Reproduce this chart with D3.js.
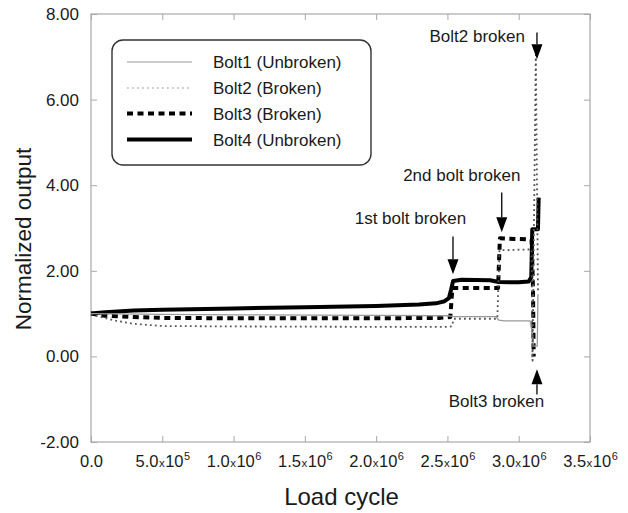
<!DOCTYPE html>
<html><head><meta charset="utf-8">
<script src="https://cdn.jsdelivr.net/npm/d3@7"></script>
<style>body{margin:0;background:#fff}svg{display:block;font-family:"Liberation Sans",Arial,Helvetica,sans-serif}</style>
</head><body><svg id="c" width="628" height="513"></svg>
<script>
// ---------- data ----------
const xTicks = [0, 5e5, 1e6, 1.5e6, 2e6, 2.5e6, 3e6, 3.5e6];
const xTickMantissa = ["0.0", "5.0", "1.0", "1.5", "2.0", "2.5", "3.0", "3.5"];
const xTickExponent = ["", "5", "6", "6", "6", "6", "6", "6"];
const yTicks = [-2, 0, 2, 4, 6, 8];
const yTickLabels = ["-2.00", "0.00", "2.00", "4.00", "6.00", "8.00"];

const seriesNames = ["Bolt1 (Unbroken)", "Bolt2 (Broken)", "Bolt3 (Broken)", "Bolt4 (Unbroken)"];

const bolt1Cycles = [0, 0.5e6, 1.0e6, 2.0e6, 2.5e6, 2.55e6, 2.84e6, 2.86e6, 2.9e6, 3.08e6, 3.095e6, 3.105e6, 3.13e6, 3.135e6];
const bolt1Output = [1.00, 0.98, 0.97, 0.96, 0.95, 0.93, 0.93, 0.85, 0.83, 0.83, 0.55, 0.24, 0.24, 1.45];

const bolt2Cycles = [0, 0.15e6, 0.3e6, 0.5e6, 1.0e6, 2.0e6, 2.5e6, 2.53e6, 2.545e6, 2.85e6, 2.865e6, 3.09e6, 3.097e6, 3.12e6, 3.135e6];
const bolt2Output = [0.98, 0.85, 0.76, 0.71, 0.70, 0.69, 0.69, 0.70, 0.88, 0.88, 2.48, 2.50, -0.10, 7.05, 1.50];

const bolt3Cycles = [0, 0.1e6, 0.3e6, 0.5e6, 1.0e6, 2.0e6, 2.45e6, 2.52e6, 2.535e6, 2.855e6, 2.868e6, 3.09e6, 3.095e6, 3.10e6, 3.105e6];
const bolt3Output = [1.00, 0.95, 0.92, 0.90, 0.89, 0.89, 0.90, 0.92, 1.60, 1.60, 2.76, 2.73, 2.20, 1.60, 0.00];

const bolt4Cycles = [0, 0.1e6, 0.3e6, 0.5e6, 1.0e6, 1.5e6, 2.0e6, 2.3e6, 2.42e6, 2.48e6, 2.51e6, 2.525e6, 2.54e6, 2.6e6, 2.8e6, 2.86e6, 3.0e6, 3.07e6, 3.088e6, 3.095e6, 3.135e6, 3.14e6];
const bolt4Output = [1.00, 1.03, 1.07, 1.09, 1.12, 1.15, 1.18, 1.21, 1.24, 1.29, 1.36, 1.55, 1.76, 1.79, 1.78, 1.74, 1.73, 1.75, 1.85, 2.97, 2.97, 3.71];

const annotationLabels = ["Bolt2 broken", "2nd bolt broken", "1st bolt broken", "Bolt3 broken"];
const annotationCycles = [3.128e6, 2.881e6, 2.539e6, 3.128e6];
const annotationTail = [7.57, 3.83, 2.80, -0.89];
const annotationTip = [6.94, 2.90, 1.92, -0.30];

// ---------- layout / style ----------
const plot = {left: 91, right: 590, top: 14, bottom: 442};
const seriesStyle = [
  {stroke: "#9a9a9a", width: 1.3, dash: null},
  {stroke: "#555", width: 1.8, dash: "1.8,3.2"},
  {stroke: "#000", width: 4, dash: "6,4.5"},
  {stroke: "#000", width: 4, dash: null}
];
const annotationLayout = [
  {dx: -12, dy: 10, anchor: "end"},
  {dx: -40, dy: -11, anchor: "middle"},
  {dx: -42.5, dy: -13, anchor: "middle"},
  {dx: -40.5, dy: 13, anchor: "middle"}
];

const svg = d3.select("#c");
const x = d3.scaleLinear().domain([0, 3.5e6]).range([plot.left, plot.right]);
const y = d3.scaleLinear().domain([-2, 8]).range([plot.bottom, plot.top]);

const frameColor = "#a8a8a8";
const textColor = "#1a1a1a";

// axes
const gx = svg.append("g").attr("transform", `translate(0,${plot.bottom})`)
  .call(d3.axisBottom(x).tickValues(xTicks).tickSizeInner(-6).tickSizeOuter(0).tickPadding(13));
const gy = svg.append("g").attr("transform", `translate(${plot.left},0)`)
  .call(d3.axisLeft(y).tickValues(yTicks).tickSizeInner(-6).tickSizeOuter(0).tickPadding(12)
    .tickFormat((d, i) => yTickLabels[i]));
svg.append("g").attr("transform", `translate(0,${plot.top})`)
  .call(d3.axisTop(x).tickValues(xTicks).tickSizeInner(-6).tickSizeOuter(0).tickFormat(""));
svg.append("g").attr("transform", `translate(${plot.right},0)`)
  .call(d3.axisRight(y).tickValues(yTicks).tickSizeInner(-6).tickSizeOuter(0).tickFormat(""));

svg.selectAll(".domain").remove();
svg.selectAll(".tick line").attr("stroke", frameColor).attr("stroke-width", 1);
svg.append("rect").attr("x", plot.left).attr("y", plot.top)
  .attr("width", plot.right - plot.left).attr("height", plot.bottom - plot.top)
  .attr("fill", "none").attr("stroke", frameColor).attr("stroke-width", 1.2);

gy.selectAll(".tick text").attr("font-size", 17).attr("fill", textColor)
  .attr("font-family", "'Liberation Sans', Arial, sans-serif");

gx.selectAll(".tick text").each(function(d, i) {
  const t = d3.select(this).text("").attr("font-size", 16.5).attr("fill", textColor)
    .attr("font-family", "'Liberation Sans', Arial, sans-serif");
  t.append("tspan").text(xTickMantissa[i]);
  if (xTickExponent[i]) {
    t.append("tspan").attr("font-size", 11.5).attr("dx", 0.5).text("x");
    t.append("tspan").attr("dx", 0.5).text("10");
    t.append("tspan").attr("font-size", 11).attr("dy", -7).attr("dx", 0.5).text(xTickExponent[i]);
  }
});

// axis titles
svg.append("text").attr("x", (plot.left + plot.right) / 2 + 1).attr("y", 505)
  .attr("text-anchor", "middle").attr("font-size", 24).attr("fill", textColor).text("Load cycle");
svg.append("text").attr("transform", "translate(31,239) rotate(-90)")
  .attr("text-anchor", "middle").attr("font-size", 22.5).attr("fill", textColor).text("Normalized output");

// series
const seriesData = [
  bolt1Cycles.map((c, i) => [c, bolt1Output[i]]),
  bolt2Cycles.map((c, i) => [c, bolt2Output[i]]),
  bolt3Cycles.map((c, i) => [c, bolt3Output[i]]),
  bolt4Cycles.map((c, i) => [c, bolt4Output[i]])
];
const line = d3.line().x(d => x(d[0])).y(d => y(d[1]));
const drawOrder = [2, 3, 0, 1];
drawOrder.forEach(k => {
  const s = seriesStyle[k];
  svg.append("path").datum(seriesData[k]).attr("d", line)
    .attr("fill", "none").attr("stroke", s.stroke).attr("stroke-width", s.width)
    .attr("stroke-dasharray", s.dash).attr("stroke-linejoin", "round");
});

// annotations
annotationLabels.forEach((label, i) => {
  const ax = x(annotationCycles[i]);
  const y0 = y(annotationTail[i]);
  const y1 = y(annotationTip[i]);
  const dir = Math.sign(y1 - y0);
  const headLen = 15, headW = 5.5;
  svg.append("line").attr("x1", ax).attr("x2", ax).attr("y1", y0).attr("y2", y1 - dir * headLen)
    .attr("stroke", "#000").attr("stroke-width", 1.3);
  svg.append("path")
    .attr("d", `M${ax},${y1} L${ax - headW},${y1 - dir * headLen} L${ax + headW},${y1 - dir * headLen} Z`)
    .attr("fill", "#000");
  const L = annotationLayout[i];
  svg.append("text").attr("x", ax + L.dx).attr("y", y0 + L.dy)
    .attr("text-anchor", L.anchor).attr("font-size", 17).attr("fill", textColor).text(label);
});

// legend
const leg = svg.append("g");
leg.append("rect").attr("x", 112).attr("y", 40).attr("width", 259).attr("height", 125)
  .attr("rx", 11).attr("ry", 11).attr("fill", "#fff").attr("stroke", "#333").attr("stroke-width", 1.4);
const legRows = [62, 88, 113.5, 139.5];
seriesNames.forEach((name, i) => {
  const s = seriesStyle[i];
  leg.append("line").attr("x1", 127).attr("x2", 192).attr("y1", legRows[i]).attr("y2", legRows[i])
    .attr("stroke", i === 0 ? "#bbb" : (i === 1 ? "#bbb" : s.stroke)).attr("stroke-width", i === 1 ? 1.4 : s.width)
    .attr("stroke-dasharray", s.dash);
  leg.append("text").attr("x", 213).attr("y", legRows[i] + 6).attr("font-size", 17)
    .attr("fill", textColor).text(name);
});
</script>
</body></html>
